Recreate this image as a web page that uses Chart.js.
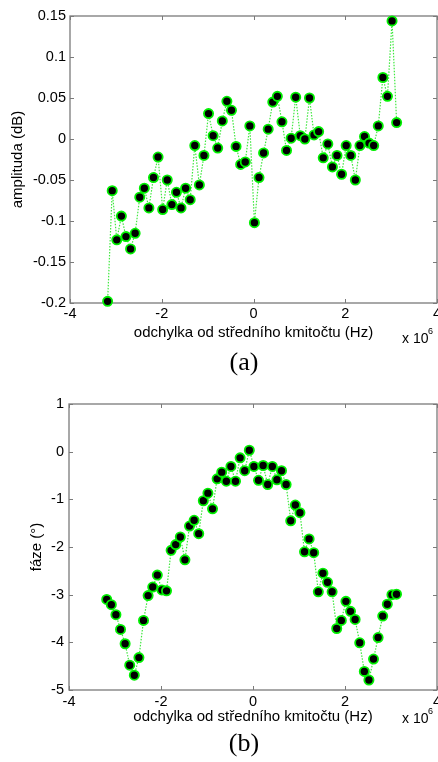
<!DOCTYPE html>
<html>
<head>
<meta charset="utf-8">
<script src="https://cdn.jsdelivr.net/npm/chart.js@4"></script>
<style>
  html, body { margin: 0; padding: 0; background: #fff; }
  #wrap { position: relative; width: 438px; height: 762px; }
  canvas { display: block; }
</style>
</head>
<body>
<div id="wrap">
  <canvas id="chartA" width="438" height="381"></canvas>
  <canvas id="chartB" width="438" height="381"></canvas>
</div>
<script>
// ---- data (frequency offset in units of 10^6 Hz) ----
const freqOffset = [-3.18,-3.08,-2.98,-2.88,-2.78,-2.68,-2.58,-2.48,-2.38,-2.28,-2.18,-2.08,-1.98,-1.88,-1.78,-1.68,
  -1.58,-1.48,-1.38,-1.28,-1.18,-1.08,-0.98,-0.88,-0.78,-0.68,-0.58,-0.48,-0.38,-0.28,-0.18,-0.08,
  0.02,0.12,0.22,0.32,0.42,0.52,0.62,0.72,0.82,0.92,1.02,1.12,1.22,1.32,1.42,1.52,
  1.62,1.72,1.82,1.92,2.02,2.12,2.22,2.32,2.42,2.52,2.62,2.72,2.82,2.92,3.02,3.12];

const amplitudeDb = [-0.198,-0.063,-0.123,-0.094,-0.119,-0.134,-0.115,-0.071,-0.060,-0.084,-0.047,-0.022,-0.086,-0.050,-0.080,-0.065,
  -0.084,-0.060,-0.074,-0.008,-0.056,-0.020,0.031,0.004,-0.011,0.022,0.046,0.035,-0.009,-0.031,-0.028,0.016,
  -0.102,-0.047,-0.017,0.012,0.045,0.052,0.021,-0.014,0.001,0.051,0.004,0.000,0.050,0.005,0.009,-0.023,
  -0.006,-0.034,-0.020,-0.043,-0.008,-0.020,-0.050,-0.008,0.003,-0.005,-0.008,0.016,0.075,0.052,0.144,0.020];

const phaseDeg = [-3.10,-3.21,-3.42,-3.73,-4.03,-4.48,-4.69,-4.32,-3.54,-3.02,-2.84,-2.59,-2.90,-2.92,-2.07,-1.95,
  -1.79,-2.27,-1.56,-1.44,-1.72,-1.03,-0.87,-1.20,-0.57,-0.43,-0.62,-0.31,-0.62,-0.13,-0.40,0.03,
  -0.31,-0.60,-0.29,-0.69,-0.31,-0.59,-0.40,-0.69,-1.45,-1.12,-1.28,-2.10,-1.83,-2.12,-2.94,-2.55,
  -2.74,-2.94,-3.71,-3.54,-3.14,-3.35,-3.52,-4.01,-4.61,-4.79,-4.35,-3.90,-3.45,-3.20,-3.00,-2.99];

const xTicks = [-4, -2, 0, 2, 4];
const yTicksA = [-0.2, -0.15, -0.1, -0.05, 0, 0.05, 0.1, 0.15];
const yTicksB = [-5, -4, -3, -2, -1, 0, 1];

const xTitle = 'odchylka od středního kmitočtu (Hz)';
const yTitleA = 'amplituda (dB)';
const yTitleB = 'fáze (°)';
const captionA = '(a)';
const captionB = '(b)';

// ---- drawing ----
const SANS = "'Liberation Sans', Arial, Helvetica, sans-serif";
const SERIF = "'Liberation Serif', 'Times New Roman', serif";

const frame = {
  id: 'frame',
  beforeDatasetsDraw(chart) {
    const { ctx, chartArea: { left, right, top, bottom } } = chart;
    const tl = 4;
    ctx.save();
    ctx.strokeStyle = '#7a7a7a';
    ctx.lineWidth = 1.3;
    ctx.strokeRect(left, top, right - left, bottom - top);
    ctx.lineWidth = 1;
    const xs = chart.scales.x, ys = chart.scales.y;
    ctx.beginPath();
    xs.ticks.forEach(t => {
      const p = Math.round(xs.getPixelForValue(t.value)) + 0.5;
      ctx.moveTo(p, bottom); ctx.lineTo(p, bottom - tl);
      ctx.moveTo(p, top); ctx.lineTo(p, top + tl);
    });
    ys.ticks.forEach(t => {
      const p = Math.round(ys.getPixelForValue(t.value)) + 0.5;
      ctx.moveTo(left, p); ctx.lineTo(left + tl, p);
      ctx.moveTo(right, p); ctx.lineTo(right - tl, p);
    });
    ctx.stroke();
    ctx.restore();
  },
  afterDraw(chart) {
    const { ctx } = chart;
    const o = chart.options.plugins.frame;
    ctx.save();
    ctx.fillStyle = '#000';
    ctx.textBaseline = 'alphabetic';
    ctx.textAlign = 'left';
    ctx.font = '14px ' + SANS;
    ctx.fillText('x 10', 402, o.expY);
    ctx.font = '9px ' + SANS;
    ctx.fillText('6', 428, o.expY - 9);
    ctx.font = '26px ' + SERIF;
    ctx.textAlign = 'center';
    ctx.textBaseline = 'middle';
    ctx.fillText(o.caption, 244, o.capY);
    ctx.restore();
  }
};

function makeChart(id, yVals, yTicks, yMin, yMax, yTitle, caption, geo) {
  const pts = freqOffset.map((x, i) => ({ x: x, y: yVals[i] }));
  return new Chart(document.getElementById(id), {
    type: 'line',
    data: {
      datasets: [{
        data: pts,
        showLine: true,
        borderColor: '#3ee83e',
        borderWidth: 1.2,
        borderDash: [1.5, 1.5],
        pointRadius: 4.6,
        pointHoverRadius: 4.6,
        pointBackgroundColor: '#000',
        pointBorderColor: '#00f000',
        pointBorderWidth: 1.8,
        tension: 0,
        clip: false
      }]
    },
    options: {
      responsive: false,
      animation: false,
      devicePixelRatio: 1,
      layout: { autoPadding: false, padding: { top: geo.top, right: 1, left: 0, bottom: 0 } },
      plugins: {
        legend: { display: false },
        tooltip: { enabled: false },
        frame: { caption: caption, capY: geo.capY, expY: geo.expY }
      },
      scales: {
        x: {
          type: 'linear',
          min: -4, max: 4,
          grid: { display: false, drawTicks: false },
          border: { display: false },
          afterBuildTicks: s => { s.ticks = xTicks.map(v => ({ value: v })); },
          afterFit: s => { s.height = geo.xh; s.paddingLeft = 0; s.paddingRight = 0; },
          ticks: {
            color: '#000', padding: geo.xpad, maxRotation: 0, autoSkip: false,
            font: { family: SANS, size: 14.5 },
            callback: v => String(v)
          },
          title: {
            display: true, text: xTitle, color: '#000',
            font: { family: SANS, size: 15 },
            padding: { top: 0, bottom: geo.xtb }
          }
        },
        y: {
          type: 'linear',
          min: yMin, max: yMax,
          grid: { display: false, drawTicks: false },
          border: { display: false },
          afterBuildTicks: s => { s.ticks = yTicks.map(v => ({ value: v })); },
          afterFit: s => { s.width = geo.yw; s.paddingTop = 0; s.paddingBottom = 0; },
          ticks: {
            color: '#000', padding: geo.ypad, autoSkip: false,
            font: { family: SANS, size: 14.5 },
            callback: v => String(v)
          },
          title: {
            display: true, text: yTitle, color: '#000',
            font: { family: SANS, size: 15 },
            padding: { top: geo.ytp, bottom: 0 }
          }
        }
      }
    },
    plugins: [frame]
  });
}

makeChart('chartA', amplitudeDb, yTicksA, -0.2, 0.15, yTitleA, captionA,
  { top: 16, xh: 78, yw: 70, xpad: 2, ypad: 4, xtb: 39, ytp: 9, capY: 363, expY: 343 });
makeChart('chartB', phaseDeg, yTicksB, -5, 1, yTitleB, captionB,
  { top: 23, xh: 72, yw: 69, xpad: 3, ypad: 5, xtb: 36, ytp: 28, capY: 363, expY: 342 });
</script>
</body>
</html>
